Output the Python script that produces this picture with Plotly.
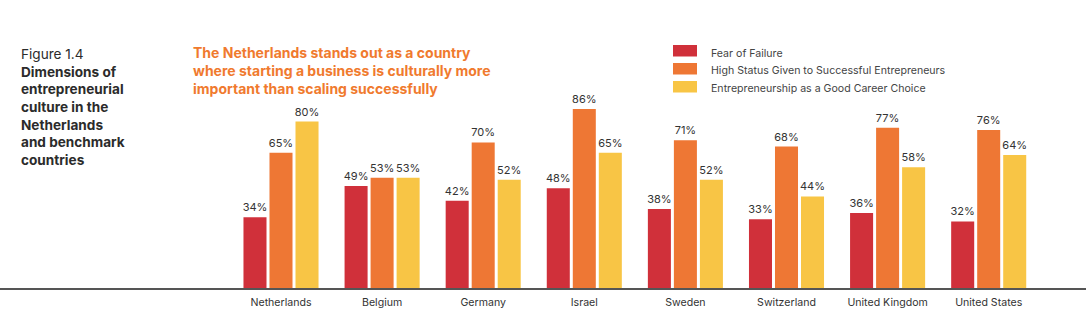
import plotly.graph_objects as go

countries = ["Netherlands", "Belgium", "Germany", "Israel", "Sweden",
             "Switzerland", "United Kingdom", "United States"]
fear_of_failure = [34, 49, 42, 48, 38, 33, 36, 32]
high_status = [65, 53, 70, 86, 71, 68, 77, 76]
good_career = [80, 53, 52, 65, 52, 44, 58, 64]

series_names = ["Fear of Failure",
                "High Status Given to Successful Entrepreneurs",
                "Entrepreneurship as a Good Career Choice"]
series_values = [fear_of_failure, high_status, good_career]
series_colors = ["#D0303A", "#EE7734", "#F8C545"]

W, H = 1086, 332
M_T, M_B = 80, 44
PLOT_H = H - M_T - M_B
FONT = "Inter, Roboto, sans-serif"


def px_x(px):
    # horizontal pixel -> paper coordinate (plot area spans full width)
    return px / W


def px_y(py):
    # vertical pixel from top -> paper coordinate of the plot area
    return (H - M_B - py) / PLOT_H


# horizontal placement: first group centred at 281px, groups 101.1px apart
first_center_px = 281.0
group_step_px = 101.1
x_lo = -first_center_px / group_step_px
x_hi = (W - first_center_px) / group_step_px

fig = go.Figure()
for name, vals, col in zip(series_names, series_values, series_colors):
    fig.add_trace(go.Bar(
        x=countries, y=vals, name=name, marker_color=col,
        marker_line_width=0,
        texttemplate="%{y}%", textposition="outside",
        textfont=dict(family=FONT, size=11, color="#333333"),
        cliponaxis=False, showlegend=False,
    ))

fig.update_layout(
    width=W, height=H,
    margin=dict(l=0, r=0, t=M_T, b=M_B),
    paper_bgcolor="white", plot_bgcolor="white",
    barmode="group", bargap=0.228, bargroupgap=0.115,
    font=dict(family=FONT, color="#333333"),
)
fig.update_traces(constraintext="none")
fig.update_xaxes(
    type="category", range=[x_lo, x_hi],
    showline=True, linecolor="#555555", linewidth=1.5,
    showgrid=False, ticks="", ticklabelstandoff=4,
    tickfont=dict(family=FONT, size=10.6, color="#333333"),
)
fig.update_yaxes(range=[0, 100], visible=False, showgrid=False)

# left-hand figure caption
fig.add_annotation(
    xref="paper", yref="paper", x=px_x(19), y=px_y(44),
    xanchor="left", yanchor="top", align="left", showarrow=False,
    text=("Figure 1.4<br><b>Dimensions of<br>entrepreneurial<br>culture in the"
          "<br>Netherlands<br>and benchmark<br>countries</b>"),
    font=dict(family=FONT, size=13.6, color="#2B2B2B"),
)

# orange headline
fig.add_annotation(
    xref="paper", yref="paper", x=px_x(191), y=px_y(41.5),
    xanchor="left", yanchor="top", align="left", showarrow=False,
    text=("<b>The Netherlands stands out as a country<br>where starting a business "
          "is culturally more<br>important than scaling successfully</b>"),
    font=dict(family=FONT, size=14, color="#F07A2E"),
)

# legend: swatches and labels
for i, (name, col) in enumerate(zip(series_names, series_colors)):
    top = 45 + i * 18
    fig.add_shape(
        type="rect", xref="paper", yref="paper",
        x0=px_x(673), x1=px_x(697), y0=px_y(top + 11.5), y1=px_y(top),
        fillcolor=col, line_width=0,
    )
    fig.add_annotation(
        xref="paper", yref="paper", x=px_x(709), y=px_y(top + 8),
        xanchor="left", yanchor="middle", showarrow=False, text=name,
        font=dict(family=FONT, size=10.6, color="#444444"),
    )

fig.write_html("out.html")
